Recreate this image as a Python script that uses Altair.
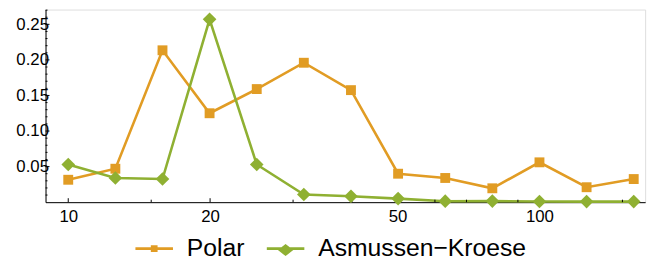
import altair as alt
import pandas as pd

# ---- data ----
x_vals = [10, 12.59, 15.85, 19.95, 25.12, 31.62, 39.81, 50.12, 63.10, 79.43, 100, 125.9, 158.5]
polar = [0.0315, 0.047, 0.2135, 0.125, 0.159, 0.196, 0.1575, 0.040, 0.034, 0.0195, 0.056, 0.021, 0.0325]
asmussen = [0.053, 0.034, 0.0325, 0.257, 0.053, 0.0107, 0.0083, 0.005, 0.0014, 0.0015, 0.001, 0.0008, 0.0008]
series_names = ["Polar", "Asmussen\u2212Kroese"]
colors = ["#E19C24", "#8FB032"]

x_major = [10, 20, 50, 100]
x_minor = [15, 30, 40, 60, 70, 80, 90, 150]
y_major = [0.05, 0.10, 0.15, 0.20, 0.25]
y_minor = [0.01, 0.02, 0.03, 0.04, 0.06, 0.07, 0.08, 0.09, 0.11, 0.12, 0.13, 0.14,
           0.16, 0.17, 0.18, 0.19, 0.21, 0.22, 0.23, 0.24, 0.26, 0.27]

df = pd.DataFrame({
    "x": x_vals * 2,
    "y": polar + asmussen,
    "series": [series_names[0]] * len(x_vals) + [series_names[1]] * len(x_vals),
})

W, H = 607, 195
FONT = "Liberation Sans"

xscale = alt.Scale(type="log", domain=[8.95, 167.6], nice=False)
yscale = alt.Scale(domain=[0, 0.2708], nice=False, zero=False)

x_enc = alt.X("x:Q", scale=xscale, axis=alt.Axis(
    values=x_major, ticks=True, tickSize=0, tickColor="transparent", grid=False,
    labelFont=FONT, labelFontSize=17,
    labelColor="#000", labelPadding=7, domainColor="#000", domainWidth=1,
    format="d", title=None, labelFlush=False))
y_enc = alt.Y("y:Q", scale=yscale, axis=alt.Axis(
    values=y_major, ticks=True, tickSize=0, tickColor="transparent", grid=False,
    labelFont=FONT, labelFontSize=17,
    labelColor="#000", labelPadding=-3, domainColor="#000", domainWidth=1,
    format=".2f", title=None))

color_plain = alt.Color("series:N", scale=alt.Scale(domain=series_names, range=colors), legend=None)

lines = alt.Chart(df).mark_line(strokeWidth=2.6).encode(
    x=x_enc, y=y_enc, color=color_plain, detail="series:N")

points = alt.Chart(df).mark_point(filled=True, opacity=1).encode(
    x="x:Q", y="y:Q",
    color=color_plain,
    shape=alt.Shape("series:N", scale=alt.Scale(domain=series_names, range=["square", "diamond"]), legend=None),
    size=alt.Size("series:N", scale=alt.Scale(domain=series_names, range=[100, 190]), legend=None),
)

# legend-only layer (no data rows drawn)
leg_paths = [
    "M-1,-0.075H1V0.075H-1Z M-0.18,-0.18H0.18V0.18H-0.18Z",
    "M-1,-0.075H1V0.075H-1Z M-0.41,0.08L0,-0.24L0.41,0.08L0,0.40Z",
]
legend_layer = alt.Chart(df).transform_filter("false").mark_point(filled=True, opacity=1).encode(
    x="x:Q", y="y:Q",
    color=alt.Color("series:N", scale=alt.Scale(domain=series_names, range=colors),
                    legend=alt.Legend(orient="none", direction="horizontal", legendX=91, legendY=223,
                                      title=None, labelFont=FONT, labelFontSize=25, labelColor="#000",
                                      labelOffset=14, columnPadding=22, symbolSize=1444, labelLimit=600,
                                      symbolStrokeWidth=0, symbolOpacity=1)),
    shape=alt.Shape("series:N", scale=alt.Scale(domain=series_names, range=leg_paths), legend=None),
)

ymaj_df = pd.DataFrame({"y": y_major})
ymin_df = pd.DataFrame({"y": y_minor})
xmaj_df = pd.DataFrame({"x": x_major})
xmin_df = pd.DataFrame({"x": x_minor})

ytick_major = alt.Chart(ymaj_df).mark_rule(color="#000", strokeWidth=1).encode(
    y="y:Q", x=alt.value(0), x2=alt.value(4))
ytick_minor = alt.Chart(ymin_df).mark_rule(color="#000", strokeWidth=1).encode(
    y="y:Q", x=alt.value(0), x2=alt.value(2))
xtick_major = alt.Chart(xmaj_df).mark_rule(color="#000", strokeWidth=1).encode(
    x="x:Q", y=alt.value(H), y2=alt.value(H - 4))
xtick_minor = alt.Chart(xmin_df).mark_rule(color="#000", strokeWidth=1).encode(
    x="x:Q", y=alt.value(H), y2=alt.value(H - 2.5))

chart = alt.layer(
    lines, ytick_major, ytick_minor, xtick_major, xtick_minor, points, legend_layer
).resolve_scale(color="independent", shape="independent", size="independent").properties(
    width=W, height=H,
    autosize=alt.AutoSizeParams(type="none"),
    padding={"left": 38, "top": 0, "right": 12, "bottom": 58},
).configure_view(stroke=None).configure(background="white")

chart.save("out.html", embed_options={"renderer": "svg", "actions": False})
